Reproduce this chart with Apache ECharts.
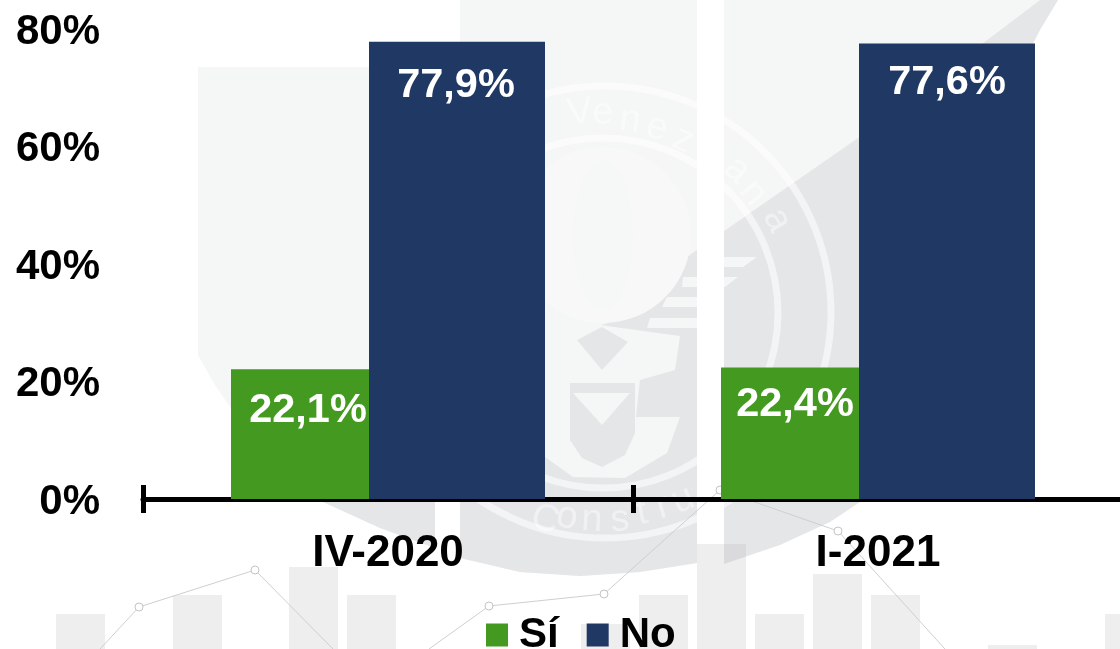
<!DOCTYPE html>
<html>
<head>
<meta charset="utf-8">
<style>html,body{margin:0;padding:0;background:#fff}#c{width:1120px;height:649px}</style>
<script src="https://cdn.jsdelivr.net/npm/echarts@6/dist/echarts.min.js"></script>
</head>
<body>
<div id="c"></div>
<script>
// Chart data
const categories = ['IV-2020', 'I-2021'];
const seriesNames = ['Sí', 'No'];
const valuesSi = [22.1, 22.4];
const valuesNo = [77.9, 77.6];
const yTicks = { min: 0, max: 80, interval: 20 };

const GREEN = '#449a20', NAVY = '#1f3864';
const FONT = '"Liberation Sans", Arial, sans-serif';
const fmt = v => v.toFixed(1).replace('.', ',') + '%';

// Hand-placed label nudges, as in the source slide
const siLabelOffset = [[8, 21], [5, 17]];
const noLabelOffset = [[-1, 24], [0, 19]];

// ---- Background watermark (decorative logo, not chart data) ----
const LIGHT = '#f5f6f6', DARK = '#e5e6e8';
const poly = (points, fill) => ({ type: 'polygon', z: -10, silent: true, shape: { points }, style: { fill } });
const wm = [
  // light upper panels
  poly([[198,67],[435,67],[435,548],[380,528],[312,497],[260,450],[215,385],[198,355]], LIGHT),
  poly([[460,0],[697,0],[697,563],[640,572],[580,576],[520,572],[460,558]], LIGHT),
  poly([[724,0],[1040,0],[858,138],[724,231]], LIGHT),
  // dark lower panels
  poly([[300,490],[435,490],[435,548],[380,528],[312,497]], DARK),
  poly([[460,490],[697,490],[697,563],[640,572],[580,576],[520,572],[460,558]], DARK),
  poly([[545,345],[610,322],[640,300],[650,285],[673,267],[697,250],[697,500],[545,500]], DARK),
  poly([[1040,0],[1058,0],[1040,30],[900,300],[880,499],[863,500],[830,522],[780,545],[724,564],[724,231],[858,138]], DARK),
  // central emblem
  { type: 'circle', z: -10, silent: true, shape: { cx: 603, cy: 235, r: 88 }, style: { fill: '#f8f8f9' } },
  { type: 'ellipse', z: -10, silent: true, shape: { cx: 603, cy: 235, rx: 30, ry: 75 }, style: { fill: '#f6f7f7' } },
  poly([[545,335],[600,325],[680,336],[675,370],[640,380],[636,417],[680,417],[667,453],[625,478],[573,477],[545,457]], LIGHT),
  poly([[577,340],[602,327],[628,342],[602,370]], DARK),
  poly([[570,383],[635,383],[635,433],[625,455],[602,467],[582,458],[570,440]], DARK),
  poly([[573,393],[630,393],[602,425]], LIGHT),
  // wing stripes
  poly([[703,257],[757,257],[743,267],[697,267]], LIGHT),
  poly([[683,277],[738,277],[725,287],[682,287]], LIGHT),
  poly([[667,297],[722,297],[710,307],[662,307]], LIGHT),
  poly([[650,318],[697,318],[697,328],[647,328]], LIGHT),
  // rings
  { type: 'circle', z: -10, silent: true, shape: { cx: 605, cy: 312, r: 226 }, style: { fill: 'none', stroke: 'rgba(255,255,255,0.55)', lineWidth: 7 } },
  { type: 'circle', z: -10, silent: true, shape: { cx: 603, cy: 313, r: 175 }, style: { fill: 'none', stroke: 'rgba(255,255,255,0.55)', lineWidth: 7 } }
];
// ring lettering
const ringLetters = [
  ['V',580,113],['e',603,113],['n',630,120],['e',657,128],['z',683,140],
  ['a',737,170],['n',753,193],['a',777,220],
  ['C',545,520],['o',567,517],['n',592,520],['s',620,520],['t',642,513],['r',663,507],['u',683,500]
];
ringLetters.forEach(([ch, x, y]) => {
  const bottom = y > 312;
  const ang = Math.atan2(x - 605, bottom ? y - 312 : 312 - y);
  wm.push({ type: 'text', z: -10, silent: true, x, y,
    rotation: bottom ? ang : -ang,
    style: { text: ch, fill: 'rgba(255,255,255,0.45)', font: '38px ' + FONT, align: 'center', verticalAlign: 'middle' } });
});
// white gap between the panels
wm.push({ type: 'rect', z: -10, silent: true, shape: { x: 697, y: 0, width: 27, height: 570 }, style: { fill: '#fff' } });
// faint mini bar chart along the bottom
[[56,614],[173,595],[289,567],[347,595],[581,624],[639,595],[697,544],[755,614],[813,574],[871,595],[988,645],[1105,614]]
  .forEach(([x, y]) => wm.push({ type: 'rect', z: -10, silent: true,
    shape: { x, y, width: 49, height: 649 - y }, style: { fill: 'rgba(180,180,182,0.23)' } }));
const wmLine = [[100,649],[139,607],[255,570],[333,649]];
const wmLine2 = [[429,649],[489,606],[604,594],[720,490],[838,531],[945,649]];
[wmLine, wmLine2].forEach(points => {
  wm.push({ type: 'polyline', z: -10, silent: true, shape: { points }, style: { fill: 'none', stroke: '#cfcfcf', lineWidth: 1 } });
  points.slice(1, -1).forEach(([cx, cy]) => wm.push({ type: 'circle', z: -10, silent: true,
    shape: { cx, cy, r: 4 }, style: { fill: '#fff', stroke: '#c4c4c4', lineWidth: 1 } }));
});

const chart = echarts.init(document.getElementById('c'), null, { renderer: 'canvas' });
const makeData = (values, offsets) => values.map((value, i) => ({ value, label: { offset: offsets[i] } }));
const labelStyle = {
  show: true, position: 'insideTop', distance: 0, color: '#fff',
  fontFamily: FONT, fontWeight: 'bold', fontSize: 41.5, lineHeight: 40,
  formatter: p => fmt(p.value)
};
chart.setOption({
  animation: false,
  backgroundColor: '#fff',
  graphic: { elements: wm },
  grid: { left: 143, top: 29.5, width: 980, height: 469.5, containLabel: false, outerBoundsMode: 'none' },
  legend: {
    left: 486, top: 614, padding: 0, itemWidth: 22, itemHeight: 23, itemGap: 28, selectedMode: false,
    icon: 'rect',
    textStyle: { color: '#000', fontFamily: FONT, fontWeight: 'bold', fontSize: 42, padding: [0, 0, 0, 6] },
    data: seriesNames
  },
  xAxis: [
    {
      type: 'category', data: categories,
      axisLine: { lineStyle: { color: '#000', width: 5 } },
      axisTick: { show: true, length: 14, lineStyle: { color: '#000', width: 5 } },
      axisLabel: { color: '#000', fontFamily: FONT, fontWeight: 'bold', fontSize: 44, margin: 33 },
      splitLine: { show: false }
    },
    {
      type: 'category', data: categories, position: 'bottom',
      axisLine: { show: false },
      axisTick: { show: true, inside: true, length: 14, lineStyle: { color: '#000', width: 5 } },
      axisLabel: { show: false }, splitLine: { show: false }
    }
  ],
  yAxis: {
    type: 'value', min: yTicks.min, max: yTicks.max, interval: yTicks.interval,
    axisLine: { show: false }, axisTick: { show: false }, splitLine: { show: false },
    axisLabel: {
      margin: 43,
      formatter: v => '{t|' + v + '%}',
      rich: { t: { color: '#000', fontFamily: FONT, fontWeight: 'bold', fontSize: 42, padding: [6, 0, 0, 0] } }
    }
  },
  series: [
    { name: seriesNames[0], type: 'bar', barWidth: 138, barGap: 0, itemStyle: { color: GREEN }, label: labelStyle, data: makeData(valuesSi, siLabelOffset) },
    { name: seriesNames[1], type: 'bar', barWidth: 176, barGap: 0, itemStyle: { color: NAVY }, label: labelStyle, data: makeData(valuesNo, noLabelOffset) }
  ]
});
</script>
</body>
</html>
